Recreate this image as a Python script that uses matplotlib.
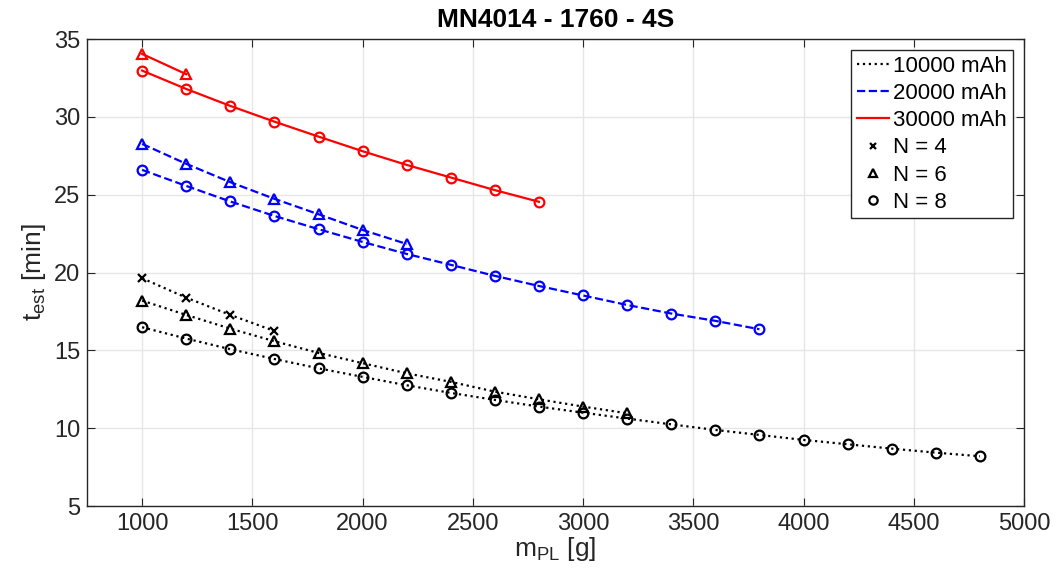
import numpy as np
import matplotlib

matplotlib.use('Agg')
import matplotlib.pyplot as plt
from matplotlib.lines import Line2D

plt.rcParams['font.family'] = ['Liberation Sans', 'DejaVu Sans']

# payload mass [g]
m_pl = [1000, 1200, 1400, 1600, 1800, 2000, 2200, 2400, 2600, 2800,
        3000, 3200, 3400, 3600, 3800, 4000, 4200, 4400, 4600, 4800]

# 10000 mAh
t10_n4 = [19.64, 18.39, 17.28, 16.25]
t10_n6 = [18.2, 17.28, 16.4, 15.59, 14.84, 14.18, 13.53, 12.98, 12.35, 11.86, 11.39, 10.96]
t10_n8 = [16.49, 15.76, 15.08, 14.45, 13.85, 13.3, 12.76, 12.27, 11.82, 11.39,
          11.0, 10.62, 10.25, 9.89, 9.57, 9.25, 8.97, 8.69, 8.43, 8.2]
# 20000 mAh
t20_n6 = [28.27, 26.99, 25.81, 24.74, 23.75, 22.74, 21.84]
t20_n8 = [26.6, 25.57, 24.57, 23.64, 22.79, 21.97, 21.2, 20.5, 19.79, 19.14,
          18.53, 17.92, 17.37, 16.9, 16.36]
# 30000 mAh
t30_n6 = [34.05, 32.75]
t30_n8 = [32.98, 31.8, 30.71, 29.7, 28.74, 27.8, 26.92, 26.11, 25.3, 24.55]

series = [
    (t10_n4, 'k', ':', 'x'),
    (t10_n6, 'k', ':', '^'),
    (t10_n8, 'k', ':', 'o'),
    (t20_n6, 'b', '--', '^'),
    (t20_n8, 'b', '--', 'o'),
    (t30_n6, 'r', '-', '^'),
    (t30_n8, 'r', '-', 'o'),
]

fig = plt.figure(figsize=(10.56, 5.81), dpi=100)
ax = fig.add_axes([0.0824, 0.129, 0.8873, 0.8036])

for vals, c, ls, mk in series:
    ax.plot(m_pl[:len(vals)], vals, color=c, linestyle=ls, linewidth=1.6,
            marker=mk, markersize=6 if mk == 'x' else 7, markerfacecolor='none',
            markeredgewidth=1.6, markeredgecolor=c)

ax.set_xlim(750, 5000)
ax.set_ylim(5, 35)
ax.set_xticks(np.arange(1000, 5001, 500))
ax.set_yticks(np.arange(5, 36, 5))
ax.grid(True, color='#e6e6e6', linewidth=1)
ax.set_axisbelow(True)
ax.tick_params(direction='in', length=6, labelsize=17, colors='#262626',
               top=True, right=True, pad=5)
for sp in ax.spines.values():
    sp.set_color('#262626')
    sp.set_linewidth(1)

ax.set_title('MN4014 - 1760 - 4S', fontsize=19, fontweight='bold', pad=9)
ax.set_xlabel(r'm$_{\mathregular{PL}}$ [g]', fontsize=19, color='#262626', labelpad=0)
ax.set_ylabel(r't$_{\mathregular{est}}$ [min]', fontsize=19, color='#262626', labelpad=4)

handles = [
    Line2D([], [], color='k', linestyle=':', linewidth=1.6),
    Line2D([], [], color='b', linestyle='--', linewidth=1.6),
    Line2D([], [], color='r', linestyle='-', linewidth=1.6),
    Line2D([], [], color='k', linestyle='none', marker='x', markersize=5, markeredgewidth=1.6),
    Line2D([], [], color='k', linestyle='none', marker='^', markersize=6,
           markerfacecolor='none', markeredgewidth=1.6),
    Line2D([], [], color='k', linestyle='none', marker='o', markersize=6,
           markerfacecolor='none', markeredgewidth=1.6),
]
labels = ['10000 mAh', '20000 mAh', '30000 mAh', 'N = 4', 'N = 6', 'N = 8']
leg = ax.legend(handles, labels, loc='upper right', fontsize=16, fancybox=False,
                framealpha=1, edgecolor='#262626', handlelength=1.45,
                handletextpad=0.2, borderpad=0.25, labelspacing=0.28,
                borderaxespad=0.5)
leg.get_frame().set_linewidth(1)

fig.savefig('out.png', dpi=100)
